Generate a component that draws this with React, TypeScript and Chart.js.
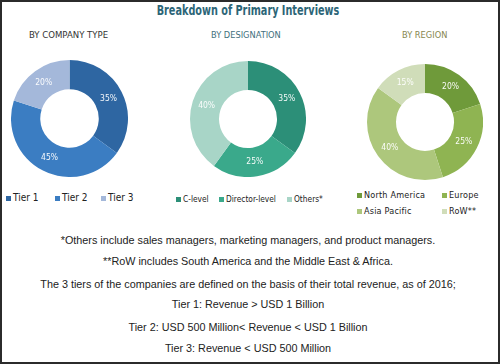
import React, { useEffect, useRef } from "react";
import { Chart, registerables } from "chart.js";

Chart.register(...registerables);

const companyTypes = ["Tier 1", "Tier 2", "Tier 3"];
const companyShares = [35, 45, 20];
const designations = ["C-level", "Director-level", "Others*"];
const designationShares = [35, 25, 40];
const regions = ["North America", "Europe", "Asia Pacific", "RoW**"];
const regionShares = [20, 25, 40, 15];

const companyColors = ["#2e66a2", "#3b7dc2", "#a4b8da"];
const designationColors = ["#2c8f78", "#3aa98b", "#a8d5c7"];
const regionColors = ["#6f9a3a", "#8fb452", "#adc77c", "#d0ddb9"];

const titleText = "Breakdown of Primary Interviews";
const subtitles = ["BY COMPANY TYPE", "BY DESIGNATION", "BY REGION"];
const notes = [
  "*Others include sales managers, marketing managers, and product managers.",
  "**RoW includes South America and the Middle East & Africa.",
  "The 3 tiers of the companies are defined on the basis of their total revenue, as of 2016;",
  "Tier 1: Revenue > USD 1 Billion",
  "Tier 2: USD 500 Million< Revenue < USD 1 Billion",
  "Tier 3: Revenue < USD 500 Million",
];

const NARROW = "'Liberation Sans Narrow', 'DejaVu Sans Condensed', Arial, sans-serif";

const pctLabels = {
  id: "pctLabels",
  afterDatasetsDraw(chart: any) {
    const ctx = chart.ctx;
    const meta = chart.getDatasetMeta(0);
    const data = chart.data.datasets[0].data;
    ctx.save();
    ctx.fillStyle = "rgba(255,255,255,0.95)";
    ctx.font = `8.5px ${NARROW}`;
    ctx.textAlign = "center";
    ctx.textBaseline = "middle";
    meta.data.forEach((arc: any, i: number) => {
      const p = arc.tooltipPosition();
      ctx.fillText(`${data[i]}%`, p.x, p.y);
    });
    ctx.restore();
  },
};

function Donut(props: {
  labels: string[];
  values: number[];
  colors: string[];
  size: number;
  left: number;
  top: number;
}) {
  const ref = useRef<HTMLCanvasElement>(null);
  useEffect(() => {
    if (!ref.current) return;
    const chart = new Chart(ref.current, {
      type: "doughnut",
      data: {
        labels: props.labels,
        datasets: [
          {
            data: props.values,
            backgroundColor: props.colors,
            borderWidth: 0,
            hoverOffset: 0,
          },
        ],
      },
      options: {
        responsive: false,
        animation: false,
        devicePixelRatio: 1,
        cutout: "50%",
        layout: { padding: 0 },
        plugins: {
          legend: { display: false },
          tooltip: { enabled: false },
          title: { display: false },
        },
      },
      plugins: [pctLabels],
    });
    return () => chart.destroy();
  }, []);
  return (
    <canvas
      ref={ref}
      width={props.size}
      height={props.size}
      style={{
        position: "absolute",
        left: props.left,
        top: props.top,
        width: props.size,
        height: props.size,
      }}
    />
  );
}

function LegendItem(props: { label: string; color: string; left: number; top: number; size?: number; spacing?: number }) {
  return (
    <div
      style={{
        position: "absolute",
        left: props.left,
        top: props.top,
        height: 12,
        lineHeight: "12px",
        fontFamily: NARROW,
        fontSize: props.size ?? 10,
        letterSpacing: props.spacing ?? 0,
        color: "#222",
        whiteSpace: "nowrap",
        display: "flex",
        alignItems: "center",
      }}
    >
      <span
        style={{
          display: "inline-block",
          width: 5,
          height: 5,
          background: props.color,
          marginRight: 2,
        }}
      />
      {props.label}
    </div>
  );
}

export default function App() {
  return (
    <div
      style={{
        position: "fixed",
        left: 0,
        top: 0,
        width: 500,
        height: 364,
        boxSizing: "border-box",
        border: "2px solid #2b2b2b",
        background: "#fff",
        overflow: "hidden",
      }}
    >
      <div style={{ position: "absolute", left: 0, top: 0, width: 500, height: 364 }}>
        <div
          style={{
            position: "absolute",
            left: 0,
            width: 492,
            top: 0,
            textAlign: "center",
            fontFamily: NARROW,
            fontWeight: "bold",
            fontSize: 14,
            color: "#2c6577",
            transform: "scaleX(0.77)",
            transformOrigin: "246px 0",
            whiteSpace: "nowrap",
          }}
        >
          {titleText}
        </div>
        <div style={{ position: "absolute", left: 27, top: 27, fontFamily: NARROW, fontSize: 9.5, color: "#333" }}>
          {subtitles[0]}
        </div>
        <div style={{ position: "absolute", left: 209, top: 27, fontFamily: NARROW, fontSize: 9.2, color: "#3f6f7c" }}>
          {subtitles[1]}
        </div>
        <div style={{ position: "absolute", left: 400, top: 27, fontFamily: NARROW, fontSize: 9.2, color: "#868650" }}>
          {subtitles[2]}
        </div>

        <Donut labels={companyTypes} values={companyShares} colors={companyColors} size={117} left={9} top={58} />
        <Donut labels={designations} values={designationShares} colors={designationColors} size={116} left={188} top={59} />
        <Donut labels={regions} values={regionShares} colors={regionColors} size={116} left={365} top={62} />

        <LegendItem label={companyTypes[0]} color={companyColors[0]} left={4} top={190} />
        <LegendItem label={companyTypes[1]} color={companyColors[1]} left={53} top={190} />
        <LegendItem label={companyTypes[2]} color={companyColors[2]} left={99} top={190} />

        <LegendItem label={designations[0]} color={designationColors[0]} left={174} top={191} size={8.3} />
        <LegendItem label={designations[1]} color={designationColors[1]} left={217} top={191} size={8.3} />
        <LegendItem label={designations[2]} color={designationColors[2]} left={285} top={191} size={8.3} />

        <LegendItem label={regions[0]} color={regionColors[0]} left={355} top={187} size={9} spacing={0.2} />
        <LegendItem label={regions[1]} color={regionColors[1]} left={440} top={187} size={9} spacing={0.2} />
        <LegendItem label={regions[2]} color={regionColors[2]} left={355} top={203} size={9} spacing={0.2} />
        <LegendItem label={regions[3]} color={regionColors[3]} left={440} top={203} size={9} spacing={0.2} />

        {notes.map((t, i) => (
          <div
            key={i}
            style={{
              position: "absolute",
              left: 0,
              width: 492,
              top: [232, 253, 276, 296, 319, 340][i],
              textAlign: "center",
              fontFamily: "'Liberation Sans', Arial, sans-serif",
              fontSize: 10.8,
              color: "#222",
              whiteSpace: "nowrap",
            }}
          >
            {t}
          </div>
        ))}
      </div>
    </div>
  );
}
